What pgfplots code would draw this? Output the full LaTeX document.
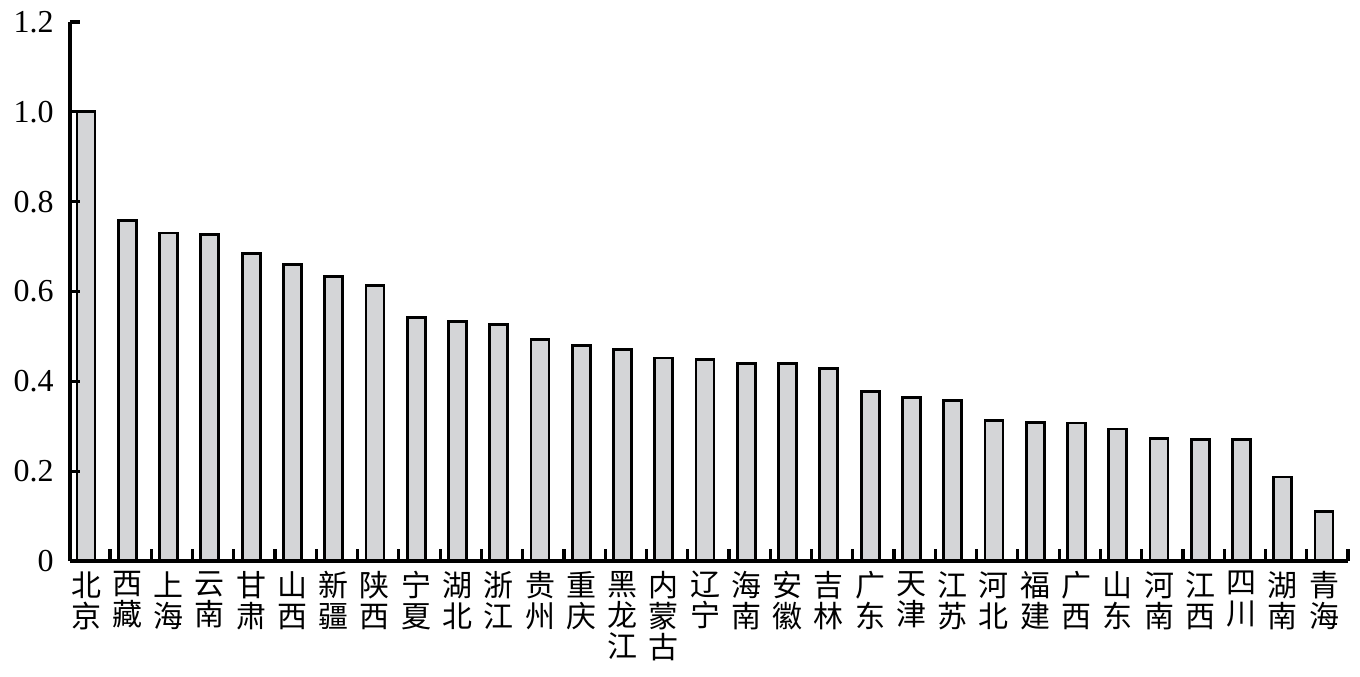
\documentclass[border=0pt]{standalone}
\usepackage{fontspec}
\setmainfont{Liberation Serif}
\newfontfamily\cjk{Noto Sans CJK SC}
\usepackage{pgfplots}
\pgfplotsset{compat=1.18}
\definecolor{barfill}{RGB}{212,213,215}

\begin{document}
\begin{tikzpicture}
\begin{axis}[
  scale only axis, width=639pt, height=269.5pt,
  xmin=-0.39, xmax=30.58, ymin=0, ymax=1.2,
  axis x line*=bottom, axis y line*=left,
  axis line style={-, line width=1.6pt, black},
  tick align=inside,
  ytick={0,0.2,0.4,0.6,0.8,1.0,1.2},
  yticklabels={0,0.2,0.4,0.6,0.8,1.0,1.2},
  yticklabel style={font=\fontsize{16}{18}\selectfont, inner sep=0pt, xshift=-8pt},
  major tick length=5pt, minor tick length=6pt,
  every tick/.style={line width=1.6pt, black},
  xtick={0,...,30},
  major x tick style={draw=none},
  minor xtick={0.58,1.58,...,30.58},
  xticklabels={{北\\京},{西\\藏},{上\\海},{云\\南},{甘\\肃},{山\\西},{新\\疆},{陕\\西},{宁\\夏},{湖\\北},{浙\\江},{贵\\州},{重\\庆},{黑\\龙\\江},{内\\蒙\\古},{辽\\宁},{海\\南},{安\\徽},{吉\\林},{广\\东},{天\\津},{江\\苏},{河\\北},{福\\建},{广\\西},{山\\东},{河\\南},{江\\西},{四\\川},{湖\\南},{青\\海}},
  xticklabel style={font=\cjk\fontsize{15}{15.5}\selectfont, align=center, anchor=north, inner sep=0pt, yshift=-5pt},
  axis on top,
]
\addplot[ybar, bar width=9pt, fill=barfill, draw=black, line width=1.4pt] coordinates {
  (0,1.000) (1,0.758) (2,0.730) (3,0.727) (4,0.685) (5,0.660) (6,0.634) (7,0.613)
  (8,0.542) (9,0.534) (10,0.526) (11,0.493) (12,0.480) (13,0.470) (14,0.452)
  (15,0.449) (16,0.440) (17,0.440) (18,0.428) (19,0.377) (20,0.364) (21,0.357)
  (22,0.313) (23,0.309) (24,0.307) (25,0.294) (26,0.273) (27,0.270) (28,0.271)
  (29,0.187) (30,0.110)
};
\end{axis}
\pgfresetboundingbox
\path ([shift={(-35pt,-57.75pt)}]current axis.south west) rectangle ([shift={(6pt,11pt)}]current axis.north east);
\end{tikzpicture}
\end{document}
